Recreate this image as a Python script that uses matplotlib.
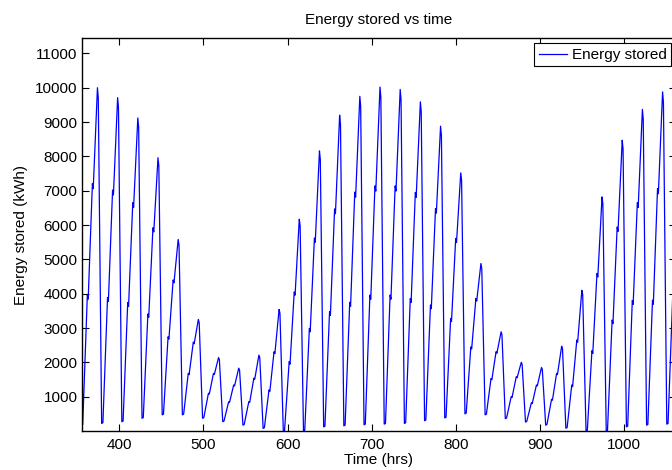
import numpy as np
import matplotlib
matplotlib.use('Agg')
import matplotlib.pyplot as plt

plt.rcParams['font.family'] = ['Liberation Sans', 'DejaVu Sans']

# godziny szczytow (jeden cykl na dobe)
peak_hours = [374, 398, 422, 446, 470, 494, 518, 542, 566, 590,
              614, 638, 662, 686, 710, 734, 758, 782, 806, 830,
              854, 878, 902, 926, 950, 974, 998, 1022, 1046]
peaks = [10000, 9710, 9120, 7960, 5580, 3250, 2140, 1830, 2210, 3540,
         6170, 8160, 9200, 9750, 10020, 9950, 9590, 8880, 7520, 4880,
         2890, 2000, 1850, 2470, 4100, 6820, 8470, 9370, 9880]
upper_shoulder = [7210, 7020, 6650, 5920, 4400, 2590, 1680, 1340, 1540, 2310,
                  4050, 5620, 6470, 6960, 7140, 7140, 6950, 6480, 5610, 3860,
                  2310, 1580, 1340, 1680, 2650, 4590, 5940, 6650, 7060]
lower_shoulder = [3960, 3890, 3740, 3410, 2745, 1680, 1100, 850, 855, 1195,
                  2020, 2990, 3480, 3750, 3960, 3960, 3860, 3670, 3280, 2450,
                  1530, 1000, 822, 925, 1340, 2340, 3230, 3800, 3810]
troughs = [170, 220, 270, 370, 470, 470, 370, 270, 170, 75,
           0, 0, 120, 150, 180, 200, 220, 300, 380, 500,
           470, 360, 260, 170, 80, 0, 0, 120, 170]
start_hour, start_value = 355.0, 4800
end_trough, end_shoulder = 200, 3900

# skladanie krzywej z punktow charakterystycznych kazdej doby
t = [start_hour]
E = [start_value]
for k, P in enumerate(peak_hours):
    if k > 0:
        t.append(P - 19); E.append(troughs[k])
    t.append(P - 17.5); E.append(troughs[k] + 20)
    t.append(P - 12); E.append(lower_shoulder[k])
    t.append(P - 11); E.append(lower_shoulder[k] - 0.012 * peaks[k])
    t.append(P - 6); E.append(upper_shoulder[k])
    t.append(P - 5); E.append(upper_shoulder[k] - 0.015 * peaks[k])
    t.append(P); E.append(peaks[k])
    t.append(P + 1); E.append(0.97 * peaks[k])
P = peak_hours[-1]
t += [P + 5, P + 6.5, P + 12]
E += [end_trough, end_trough + 20, end_shoulder]

fig = plt.figure(figsize=(6.72, 4.70), dpi=100)
ax = fig.add_axes([0.1216, 0.083, 0.8844, 0.8355])
ax.plot(t, E, color='b', lw=0.9, label='Energy stored')

ax.set_xlim(355.3, 1062)
ax.set_ylim(0, 11440)
ax.set_xticks(range(400, 1001, 100))
ax.set_yticks(range(1000, 11001, 1000))
ax.tick_params(direction='in', top=True, right=True, length=5, width=0.8, labelsize=11)
ax.tick_params(axis='x', pad=5)
ax.tick_params(axis='y', pad=3)
for s in ax.spines.values():
    s.set_linewidth(1.0)

ax.set_title('Energy stored vs time', fontsize=11, pad=10)
ax.set_xlabel('Time (hrs)', fontsize=11, labelpad=1)
ax.set_ylabel('Energy stored (kWh)', fontsize=11, labelpad=5)

leg = ax.legend(loc='upper right', bbox_to_anchor=(671 / 672, 1 - 43.3 / 470),
                bbox_transform=fig.transFigure, borderaxespad=0, fontsize=11,
                handlelength=1.85, handletextpad=0.3, borderpad=0.3,
                fancybox=False, framealpha=1)
leg.get_frame().set_edgecolor('k')
leg.get_frame().set_linewidth(0.8)

fig.savefig('out.png', dpi=100)
